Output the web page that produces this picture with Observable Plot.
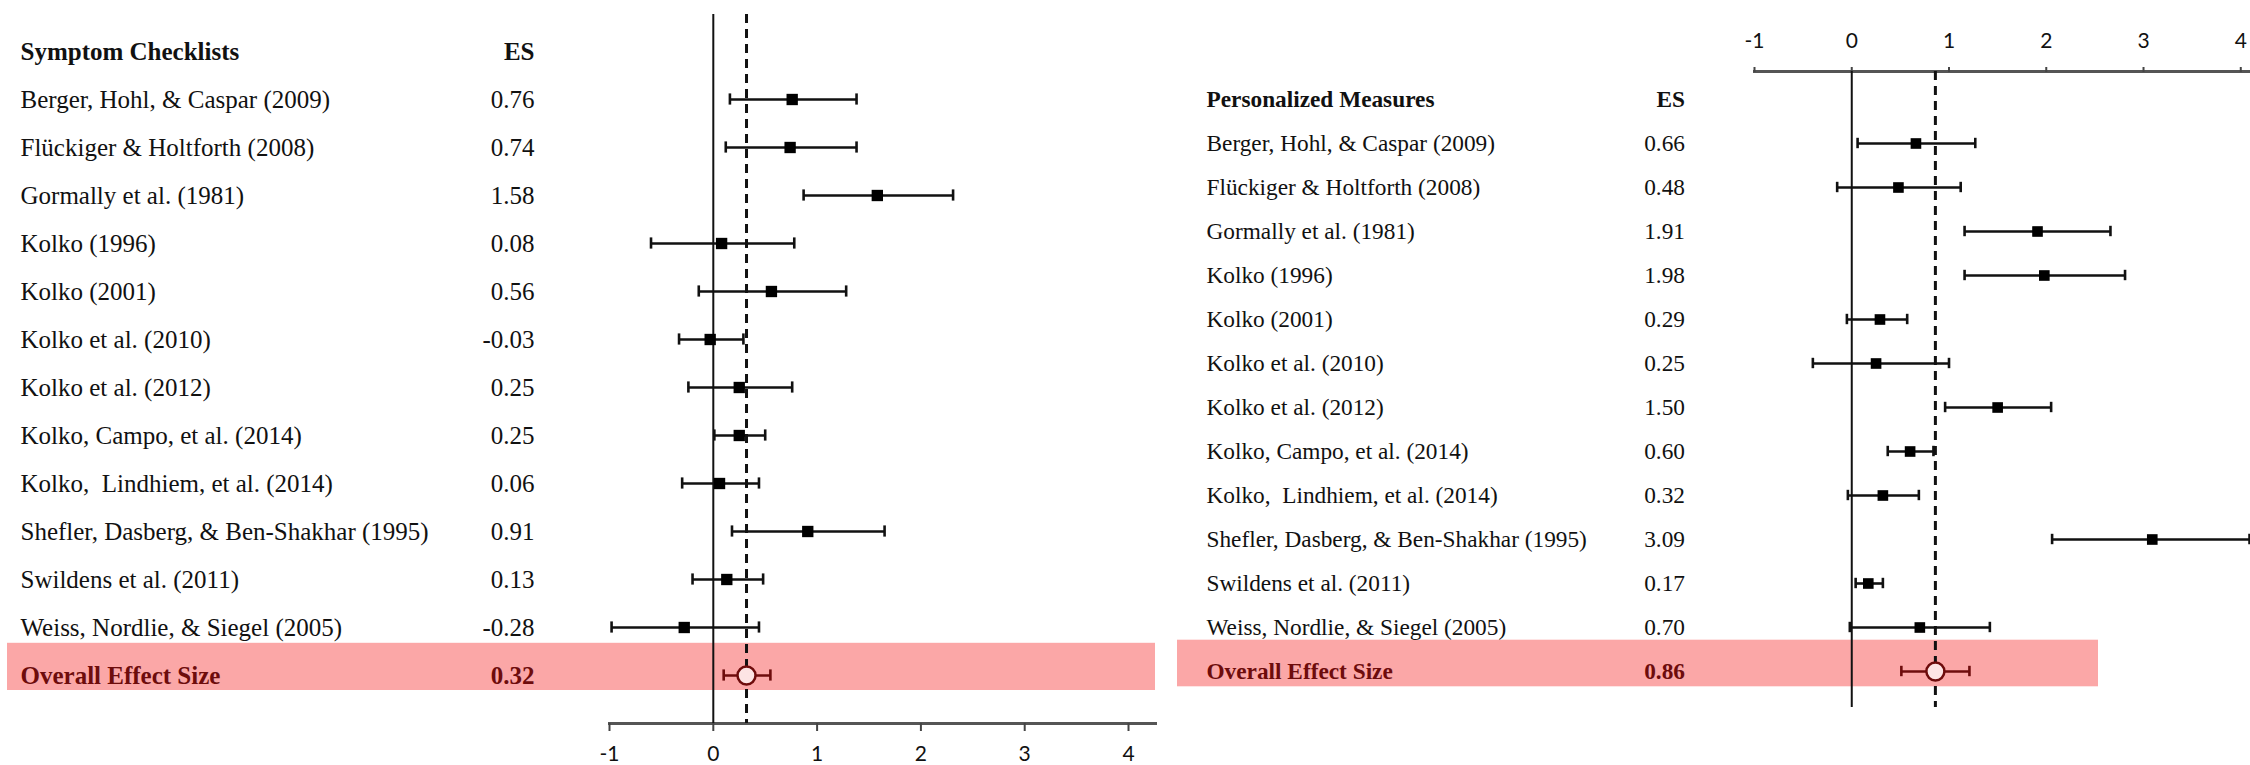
<!DOCTYPE html>
<html>
<head>
<meta charset="utf-8">
<script src="https://cdn.jsdelivr.net/npm/d3@7"></script>
<script src="https://cdn.jsdelivr.net/npm/@observablehq/plot@0.6"></script>
<style>
  html, body { margin: 0; padding: 0; background: #ffffff; }
  #wrap { position: relative; width: 2250px; height: 765px; overflow: hidden; background: #fff; }
  #left { position: absolute; left: 0; top: 0; }
  #right { position: absolute; left: 1165px; top: 0; }
</style>
</head>
<body>
<div id="wrap"><div id="left"></div><div id="right"></div></div>
<script>
// ---------- data ----------
const studies = [
  "Berger, Hohl, & Caspar (2009)",
  "Flückiger & Holtforth (2008)",
  "Gormally et al. (1981)",
  "Kolko (1996)",
  "Kolko (2001)",
  "Kolko et al. (2010)",
  "Kolko et al. (2012)",
  "Kolko, Campo, et al. (2014)",
  "Kolko,  Lindhiem, et al. (2014)",
  "Shefler, Dasberg, & Ben-Shakhar (1995)",
  "Swildens et al. (2011)",
  "Weiss, Nordlie, & Siegel (2005)"
];
const overallLabel = "Overall Effect Size";
const esHeader = "ES";
const xTicks = [-1, 0, 1, 2, 3, 4];

// Symptom Checklists
const symptomHeader = "Symptom Checklists";
const symptomES = [0.76, 0.74, 1.58, 0.08, 0.56, -0.03, 0.25, 0.25, 0.06, 0.91, 0.13, -0.28];
const symptomLo = [0.16, 0.12, 0.87, -0.60, -0.14, -0.33, -0.24, 0.01, -0.30, 0.18, -0.20, -0.98];
const symptomHi = [1.38, 1.38, 2.31, 0.78, 1.28, 0.29, 0.76, 0.50, 0.44, 1.65, 0.48, 0.44];
const symptomOverall = {es: 0.32, lo: 0.10, hi: 0.55};

// Personalized Measures
const personalHeader = "Personalized Measures";
const personalES = [0.66, 0.48, 1.91, 1.98, 0.29, 0.25, 1.50, 0.60, 0.32, 3.09, 0.17, 0.70];
const personalLo = [0.06, -0.15, 1.16, 1.16, -0.05, -0.40, 0.96, 0.37, -0.04, 2.06, 0.04, -0.02];
const personalHi = [1.27, 1.12, 2.66, 2.81, 0.57, 1.00, 2.05, 0.84, 0.69, 4.09, 0.32, 1.42];
const personalOverall = {es: 0.86, lo: 0.51, hi: 1.21};

// ---------- styling ----------
const darkRed = "#6e0c0c";
const bandPink = "#fba7a7";
const serif = "Liberation Serif, Times New Roman, serif";

function panel(o) {
  const rows = studies.map((s, i) => ({name: s, es: o.es[i], lo: o.lo[i], hi: o.hi[i]}));
  const ov = [{name: overallLabel, ...o.overall}];
  const domain = [o.header, ...studies, overallLabel];
  const fmt = v => v.toFixed(2);
  const txt = {frameAnchor: "left", fontFamily: serif, fontSize: o.fontSize};
  return Plot.plot({
    width: o.width, height: 765,
    marginLeft: o.marginLeft, marginRight: o.marginRight,
    marginTop: o.marginTop, marginBottom: o.marginBottom,
    style: {fontFamily: "Lato, sans-serif", fontSize: "21px", background: "transparent", overflow: "visible"},
    x: {domain: o.xDomain},
    y: {type: "band", domain, range: o.yRange, padding: 0, axis: null},
    marks: [
      Plot.cell(ov, {y: "name", fill: bandPink,
        insetLeft: o.band.left, insetRight: o.band.right, insetTop: o.band.top, insetBottom: o.band.bottom}),
      Plot.frame({anchor: o.axisAnchor, stroke: "#555", strokeWidth: 3}),
      Plot.axisX(xTicks, {anchor: o.axisAnchor, tickSize: o.tickSize, tickPadding: o.tickPadding,
        tickFormat: d => String(d), fontSize: 21, stroke: "#444", strokeWidth: 2, fill: "#111"}),
      Plot.ruleX([0], {stroke: "#111", strokeWidth: 2}),
      Plot.ruleX([o.overall.es], {stroke: "#111", strokeWidth: 3, strokeDasharray: "9,6"}),
      // whiskers
      Plot.ruleY(rows, {y: "name", x1: "lo", x2: "hi", stroke: "#111", strokeWidth: 2.6}),
      Plot.tickX(rows, {x: "lo", y: "name", stroke: "#111", strokeWidth: 2.6, insetTop: o.capInset, insetBottom: o.capInset}),
      Plot.tickX(rows, {x: "hi", y: "name", stroke: "#111", strokeWidth: 2.6, insetTop: o.capInset, insetBottom: o.capInset}),
      Plot.dot(rows, {x: "es", y: "name", symbol: "square", fill: "#000", r: o.markR}),
      // overall
      Plot.ruleY(ov, {y: "name", x1: "lo", x2: "hi", stroke: darkRed, strokeWidth: 2.6}),
      Plot.tickX(ov, {x: "lo", y: "name", stroke: darkRed, strokeWidth: 2.6, insetTop: o.capInset, insetBottom: o.capInset}),
      Plot.tickX(ov, {x: "hi", y: "name", stroke: darkRed, strokeWidth: 2.6, insetTop: o.capInset, insetBottom: o.capInset}),
      Plot.dot(ov, {x: "es", y: "name", symbol: "circle", r: 9, fill: "#fde4e4", stroke: darkRed, strokeWidth: 2.5}),
      // text columns
      Plot.text([o.header], {...txt, y: d => d, text: d => d, dx: o.nameDx, textAnchor: "start", fontWeight: "bold", fill: "#111"}),
      Plot.text([esHeader], {...txt, y: () => o.header, text: d => d, dx: o.esDx, textAnchor: "end", fontWeight: "bold", fill: "#111"}),
      Plot.text(rows, {...txt, y: "name", text: "name", dx: o.nameDx, textAnchor: "start", fill: "#111"}),
      Plot.text(rows, {...txt, y: "name", text: d => fmt(d.es), dx: o.esDx, textAnchor: "end", fill: "#111"}),
      Plot.text(ov, {...txt, y: "name", text: "name", dx: o.nameDx, textAnchor: "start", fontWeight: "bold", fill: darkRed}),
      Plot.text(ov, {...txt, y: "name", text: d => fmt(d.es), dx: o.esDx, textAnchor: "end", fontWeight: "bold", fill: darkRed})
    ]
  });
}

document.getElementById("left").append(panel({
  header: symptomHeader, es: symptomES, lo: symptomLo, hi: symptomHi, overall: symptomOverall,
  width: 1165, marginLeft: 609, marginRight: 10, marginTop: 14, marginBottom: 42,
  xDomain: [-1, 4.26], yRange: [25.9, 700.7],
  axisAnchor: "bottom", tickSize: 8, tickPadding: 15,
  band: {left: -602, right: 0, top: -8.2, bottom: 9},
  capInset: 18.4, markR: 6.4, fontSize: 25, nameDx: -589, esDx: -75
}));

document.getElementById("right").append(panel({
  header: personalHeader, es: personalES, lo: personalLo, hi: personalHi, overall: personalOverall,
  width: 1085, marginLeft: 589, marginRight: 0, marginTop: 71, marginBottom: 58,
  xDomain: [-1, 4.1], yRange: [71.9, 698.4],
  axisAnchor: "top", tickSize: 5, tickPadding: 19,
  band: {left: -577, right: 152, top: -9.3, bottom: 6.7},
  capInset: 16.8, markR: 6, fontSize: 23.3, nameDx: -548, esDx: -69.5
}));
</script>
</body>
</html>
